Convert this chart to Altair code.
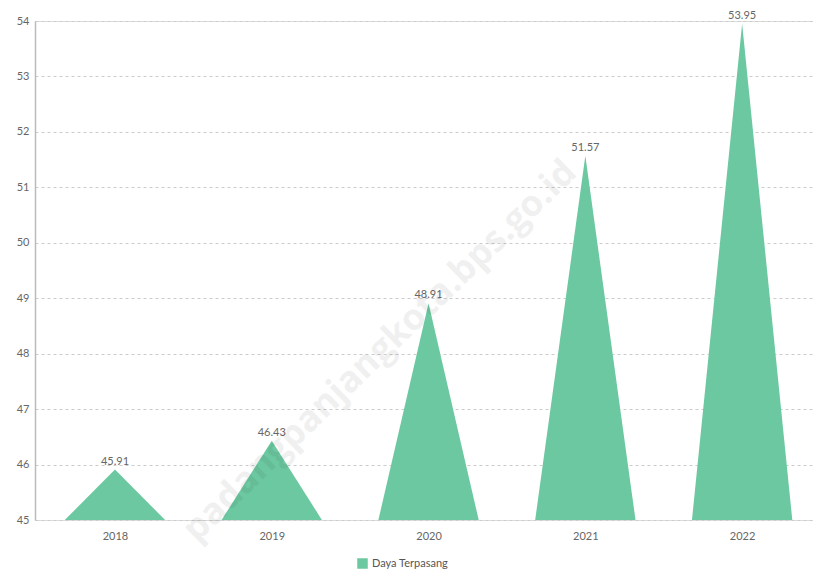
import altair as alt
import pandas as pd

years = ["2018", "2019", "2020", "2021", "2022"]
values = [45.91, 46.43, 48.91, 51.57, 53.95]
series_name = "Daya Terpasang"
y_ticks = [45, 46, 47, 48, 49, 50, 51, 52, 53, 54]
watermark = "padangpanjangkota.bps.go.id"

HALF = 0.32
BASE = 45

rows = []
for i, (yr, v) in enumerate(zip(years, values)):
    rows.append({"year": yr, "x": i - HALF, "y": BASE, "base": BASE, "series": series_name})
    rows.append({"year": yr, "x": i, "y": v, "base": BASE, "series": series_name})
    rows.append({"year": yr, "x": i + HALF, "y": BASE, "base": BASE, "series": series_name})
tri = pd.DataFrame(rows)

lab = pd.DataFrame({"x": list(range(len(years))), "y": values,
                    "label": [f"{v:.2f}" for v in values]})

label_expr = "[" + ",".join(f"'{y}'" for y in years) + "][datum.value]"

FONT = "Lato"
GREEN = "#6cc8a0"

xscale = alt.Scale(domain=[-0.51, len(years) - 0.548], nice=False, zero=False)
yscale = alt.Scale(domain=[45, 54], nice=False, zero=False)

area = alt.Chart(tri).mark_area(orient="vertical", opacity=1).encode(
    x=alt.X("x:Q", scale=xscale,
            axis=alt.Axis(values=list(range(len(years))), labelExpr=label_expr,
                          title=None, grid=False, domain=False, ticks=False,
                          labelPadding=10, labelFontSize=11, labelColor="#666",
                          labelFont=FONT)),
    y=alt.Y("y:Q", scale=yscale,
            axis=alt.Axis(values=y_ticks, format="d", title=None, grid=True,
                          gridDash=[3, 3], gridColor="#cccccc", domain=True,
                          domainColor="#bbbbbb", domainWidth=1.5, ticks=False,
                          labelPadding=6, labelFontSize=11, labelColor="#666",
                          labelFont=FONT)),
    y2=alt.Y2("base:Q"),
    detail="year:N",
    color=alt.Color("series:N", scale=alt.Scale(range=[GREEN]),
                    legend=alt.Legend(title=None, orient="none", legendX=322, legendY=537,
                                      symbolType="square", symbolSize=110,
                                      symbolStrokeWidth=0, labelFontSize=11,
                                      labelColor="#555", labelFont=FONT)),
)

text = alt.Chart(lab).mark_text(dy=-8, fontSize=11, color="#666", font=FONT).encode(
    x=alt.X("x:Q", scale=xscale),
    y=alt.Y("y:Q", scale=yscale),
    text="label:N",
)

wm = alt.Chart(pd.DataFrame({"t": [watermark]})).mark_text(
    angle=316, fontSize=36, fontWeight="bold", color="#000000", opacity=0.055,
    font="Open Sans", align="center", baseline="middle"
).encode(x=alt.value(345), y=alt.value(330), text="t:N")

chart = alt.layer(area, text, wm).properties(
    width=778, height=499,
    autosize=alt.AutoSizeParams(type="none"),
    padding={"left": 27, "top": 13, "right": 0, "bottom": 51},
).configure_view(stroke=None).configure(font=FONT)

chart.save("out.html", embed_options={"renderer": "svg", "actions": False})
